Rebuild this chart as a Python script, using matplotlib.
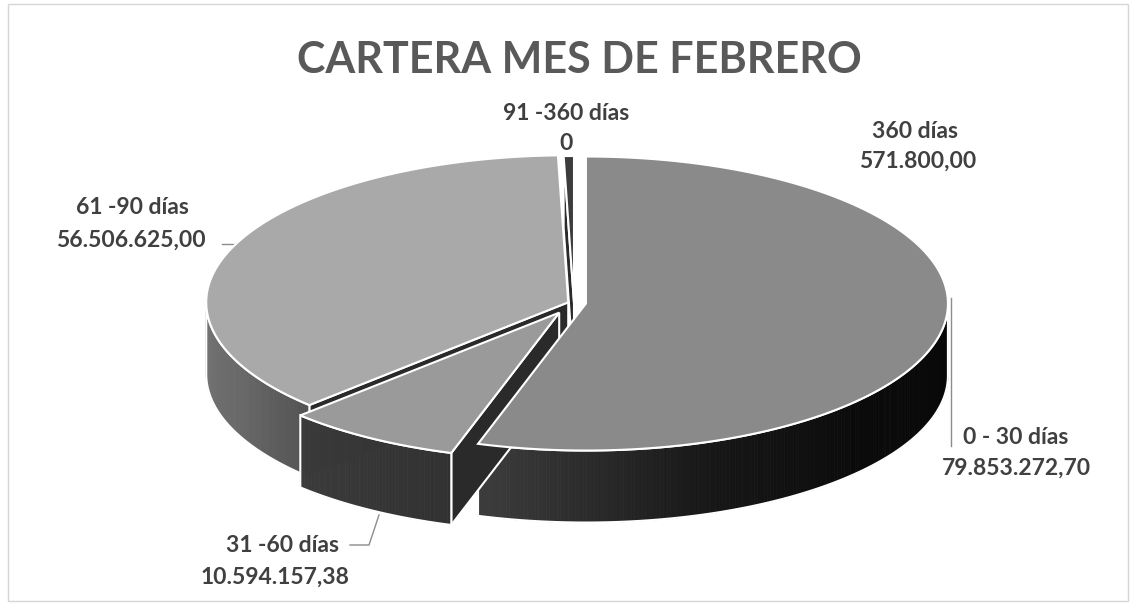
import numpy as np
import matplotlib.pyplot as plt
from matplotlib.patches import Polygon, Rectangle

# Datos de la cartera
categorias = ['0 - 30 días', '31 -60 días', '61 -90 días', '91 -360 días', '360 días']
valores = [79853272.70, 10594157.38, 56506625.00, 0.0, 571800.00]
titulo = 'CARTERA MES DE FEBRERO'

# colores de la cara superior de cada tajada (escala de grises)
color_tapa = ['#8a8a8a', '#9a9a9a', '#a9a9a9', '#3c3c3c', '#3c3c3c']
separacion = [12, 28, 6, 0, 0]

# sombra de las paredes: (angulos, nivel de gris) por tajada
sombra = [
    ([90, 130, 160, 185, 195], [0.03, 0.04, 0.09, 0.19, 0.23]),
    ([195, 225], [0.19, 0.23]),
    ([225, 245, 275], [0.32, 0.41, 0.47]),
    ([0, 360], [0.2, 0.2]),
    ([0, 360], [0.2, 0.2]),
]

# geometria del pastel 3D (en pixeles)
cx, cy, rx, ry, prof = 574, 303, 362, 147, 72
persp = 5  # deformacion angular para imitar la perspectiva


def formato(v):
    if v == 0:
        return '0'
    s = f'{v:,.2f}'
    return s.replace(',', 'X').replace('.', ',').replace('X', '.')


def ang(th):
    th = np.asarray(th, dtype=float)
    return th + persp * np.sin(np.radians(2 * (th - 180)))


def punto(th, ex, ey, z=0):
    t = np.radians(ang(th))
    return cx + ex + rx * np.sin(t), cy + ey - ry * np.cos(t) + z


fig = plt.figure(figsize=(11.35, 6.06), dpi=100)
ax = fig.add_axes([0, 0, 1, 1])
ax.set_xlim(0, 1135)
ax.set_ylim(606, 0)
ax.axis('off')

total = sum(valores)
bordes = np.concatenate([[0], np.cumsum(valores) / total * 360])
medios = (bordes[:-1] + bordes[1:]) / 2

desp = []
for i in range(len(valores)):
    m = np.radians(ang(medios[i]))
    desp.append((separacion[i] * np.sin(m), -separacion[i] * (ry / rx) * np.cos(m)))

orden = np.argsort(-np.cos(np.radians(medios)))

# paredes (caras radiales y pared exterior)
for i in orden:
    a0, a1 = bordes[i], bordes[i + 1]
    if a1 - a0 <= 0:
        continue
    ex, ey = desp[i]
    ox, oy = cx + ex, cy + ey

    for a, n in [(a0, ang(a0) - 90), (a1, ang(a1) + 90)]:
        if -np.cos(np.radians(n)) > 0.02:
            px, py = punto(a, ex, ey)
            cara = [(ox, oy), (px, py), (px, py + prof), (ox, oy + prof)]
            ax.add_patch(Polygon(cara, closed=True, facecolor='#2a2a2a',
                                 edgecolor='white', lw=1.5, zorder=2))

    p0, p1 = max(a0, 90), min(a1, 270)
    if p1 > p0:
        ths = np.linspace(p0, p1, int((p1 - p0) * 2) + 2)
        for t0, t1 in zip(ths[:-1], ths[1:]):
            x0, y0 = punto(t0, ex, ey)
            x1, y1 = punto(t1, ex, ey)
            v = np.interp(ang((t0 + t1) / 2), *sombra[i])
            c = (v, v, v)
            ax.add_patch(Polygon([(x0, y0), (x1, y1), (x1, y1 + prof), (x0, y0 + prof)],
                                 closed=True, facecolor=c, edgecolor=c, lw=0.6, zorder=2))
        xs, ys = punto(ths, ex, ey)
        contorno = list(zip(xs, ys)) + list(zip(xs[::-1], ys[::-1] + prof))
        ax.add_patch(Polygon(contorno, closed=True, facecolor='none',
                             edgecolor='white', lw=1.5, zorder=2))

# caras superiores
for i in orden:
    a0, a1 = bordes[i], bordes[i + 1]
    if a1 - a0 <= 0:
        continue
    ex, ey = desp[i]
    ths = np.linspace(a0, a1, max(int((a1 - a0) * 2), 2) + 1)
    xs, ys = punto(ths, ex, ey)
    tapa = [(cx + ex, cy + ey)] + list(zip(xs, ys))
    ax.add_patch(Polygon(tapa, closed=True, facecolor=color_tapa[i],
                         edgecolor='white', lw=1.5, zorder=3))

# titulo
fuente = 'Lato'
ax.text(579, 60, titulo, ha='center', va='center', fontsize=31, fontweight='bold',
        color='#595959', family=fuente)

# etiquetas de datos
c_txt = '#404040'
fs = 16.5
etq = {
    0: (1016, 437, 1016, 468),
    1: (283, 546, 275, 577),
    2: (132, 208, 131, 240),
    3: (566, 113, 566, 143),
    4: (915, 131, 918, 161),
}
for i, (x1, y1, x2, y2) in etq.items():
    ax.text(x1, y1, categorias[i], ha='center', va='center', fontsize=fs,
            fontweight='bold', color=c_txt, family=fuente)
    ax.text(x2, y2, formato(valores[i]), ha='center', va='center', fontsize=fs,
            fontweight='bold', color=c_txt, family=fuente)

# lineas guia
gris = '#8c8c8c'
ax.plot([951, 951], [298, 446], color=gris, lw=1)
ax.plot([222, 238], [244, 244], color=gris, lw=1)
ax.plot([350, 369, 379], [545, 545, 515], color=gris, lw=1)

# marco
ax.add_patch(Rectangle((8, 4), 1120, 597, facecolor='none', edgecolor='#d6d6d6', lw=1))

fig.savefig('out.png', dpi=100)
